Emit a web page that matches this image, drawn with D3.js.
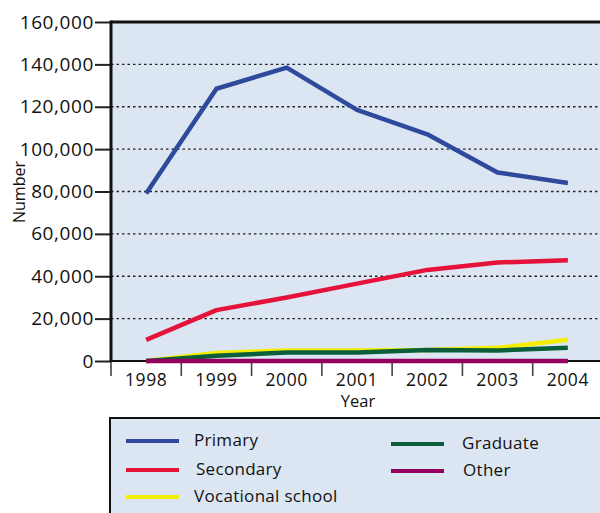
<!DOCTYPE html>
<html>
<head>
<meta charset="utf-8">
<script src="https://cdn.jsdelivr.net/npm/d3@7"></script>
<style>
    body { margin: 0; background: #fff; }
    #chart { width: 600px; height: 513px; overflow: hidden; }
    text { font-family: "Open Sans", sans-serif; fill: #111; }
</style>
</head>
<body>
<div id="chart"></div>
<script>
let years = ['1998', '1999', '2000', '2001', '2002', '2003', '2004'];
let yTicks = [0, 20000, 40000, 60000, 80000, 100000, 120000, 140000, 160000];

let primary = [79000, 128500, 138500, 118500, 107000, 89000, 84000];
let secondary = [10000, 24000, 30000, 36500, 43000, 46500, 47500];
let vocational = [0, 3800, 5000, 5000, 5200, 6200, 10000];
let graduate = [0, 2500, 4000, 4000, 5200, 5000, 6300];
let other = [0, 0, 0, 0, 0, 0, 0];

let seriesNames = ['Primary', 'Secondary', 'Vocational school', 'Graduate', 'Other'];
let seriesColors = ['#2f4a9c', '#e5123a', '#f4ef00', '#0a5e3a', '#94005f'];

let series = [primary, secondary, vocational, graduate, other].map((v, i) => ({
    name: seriesNames[i],
    color: seriesColors[i],
    values: v
}));

let chartWidth = 600,
    chartHeight = 513,
    chartMargin = {left: 111, top: 22, right: -3, bottom: 152},
    clipWidth = chartWidth - chartMargin.left - chartMargin.right,
    clipHeight = chartHeight - chartMargin.top - chartMargin.bottom;

let svg = d3.select('#chart').append('svg')
    .attr('width', chartWidth)
    .attr('height', chartHeight);

let g = svg.append('g')
    .attr('transform', `translate(${chartMargin.left}, ${chartMargin.top})`);

let xScale = d3.scaleBand()
    .domain(years)
    .range([0, clipWidth]);

let yScale = d3.scaleLinear()
    .domain([0, 160000])
    .range([clipHeight, 0]);

// plot background
g.append('rect')
    .attr('width', clipWidth)
    .attr('height', clipHeight)
    .attr('fill', '#dce6f2');

// dotted grid
g.append('g')
    .selectAll('line')
    .data(yTicks.filter(d => d > 0 && d < 160000))
    .join('line')
    .attr('x1', 0)
    .attr('x2', clipWidth)
    .attr('y1', d => yScale(d))
    .attr('y2', d => yScale(d))
    .attr('stroke', '#222')
    .attr('stroke-width', 1.3)
    .attr('stroke-dasharray', '2.5,3');

// y axis
let yAxis = g.append('g')
    .call(d3.axisLeft(yScale)
        .tickValues(yTicks)
        .tickSize(16)
        .tickPadding(1)
        .tickFormat(d3.format(',d')));
yAxis.select('.domain').remove();
yAxis.selectAll('line').attr('stroke', '#222').attr('stroke-width', 2);
yAxis.selectAll('text')
    .attr('font-size', 19)
    .style('font-size', '19px')
    .style('letter-spacing', '0.6px')
    .attr('fill', '#111');

// x axis: separators between years
let xAxis = g.append('g')
    .attr('transform', `translate(0, ${clipHeight})`);
xAxis.selectAll('line')
    .data(years.concat(['end']))
    .join('line')
    .attr('x1', (d, i) => i * xScale.step())
    .attr('x2', (d, i) => i * xScale.step())
    .attr('y1', 0)
    .attr('y2', 15)
    .attr('stroke', '#444')
    .attr('stroke-width', 1.6);
xAxis.selectAll('text')
    .data(years)
    .join('text')
    .attr('x', d => xScale(d) + xScale.bandwidth() / 2)
    .attr('y', 25)
    .attr('text-anchor', 'middle')
    .style('font-size', '17.5px')
    .style('letter-spacing', '0.6px')
    .text(d => d);

// frame lines
g.append('line')
    .attr('x1', 0).attr('x2', clipWidth)
    .attr('y1', 0).attr('y2', 0)
    .attr('stroke', '#111').attr('stroke-width', 3);
g.append('line')
    .attr('x1', 0).attr('x2', 0)
    .attr('y1', -1.5).attr('y2', clipHeight + 1)
    .attr('stroke', '#111').attr('stroke-width', 3);
g.append('line')
    .attr('x1', 0).attr('x2', clipWidth)
    .attr('y1', clipHeight).attr('y2', clipHeight)
    .attr('stroke', '#111').attr('stroke-width', 2);

// series lines
let line = d3.line()
    .x((d, i) => xScale(years[i]) + xScale.bandwidth() / 2)
    .y(d => yScale(d));

g.append('g')
    .selectAll('path')
    .data(series)
    .join('path')
    .attr('d', d => line(d.values))
    .attr('fill', 'none')
    .attr('stroke', d => d.color)
    .attr('stroke-width', 4.5)
    .attr('stroke-linejoin', 'round');

// axis titles
svg.append('text')
    .attr('x', 358)
    .attr('y', 407)
    .attr('text-anchor', 'middle')
    .style('font-size', '16.5px')
    .text('Year');

svg.append('text')
    .attr('transform', 'translate(25, 192) rotate(-90)')
    .attr('text-anchor', 'middle')
    .style('font-size', '16px')
    .text('Number');

// legend
let legend = svg.append('g');
legend.append('rect')
    .attr('x', 110)
    .attr('y', 418)
    .attr('width', 500)
    .attr('height', 110)
    .attr('fill', '#dce6f2')
    .attr('stroke', '#111')
    .attr('stroke-width', 2);

let legendPos = [
    {x: 126, y: 441, tx: 194},
    {x: 126, y: 470, tx: 196},
    {x: 126, y: 497, tx: 194},
    {x: 391, y: 444, tx: 462},
    {x: 391, y: 471, tx: 463}
];

let legendItems = legend.selectAll('.item')
    .data(series)
    .join('g')
    .attr('class', 'item');

legendItems.append('line')
    .attr('x1', (d, i) => legendPos[i].x)
    .attr('x2', (d, i) => legendPos[i].x + 53)
    .attr('y1', (d, i) => legendPos[i].y)
    .attr('y2', (d, i) => legendPos[i].y)
    .attr('stroke', d => d.color)
    .attr('stroke-width', 4);

legendItems.append('text')
    .attr('x', (d, i) => legendPos[i].tx)
    .attr('y', (d, i) => legendPos[i].y + 5)
    .style('font-size', '17px')
    .style('letter-spacing', '0.3px')
    .text(d => d.name);
</script>
</body>
</html>
